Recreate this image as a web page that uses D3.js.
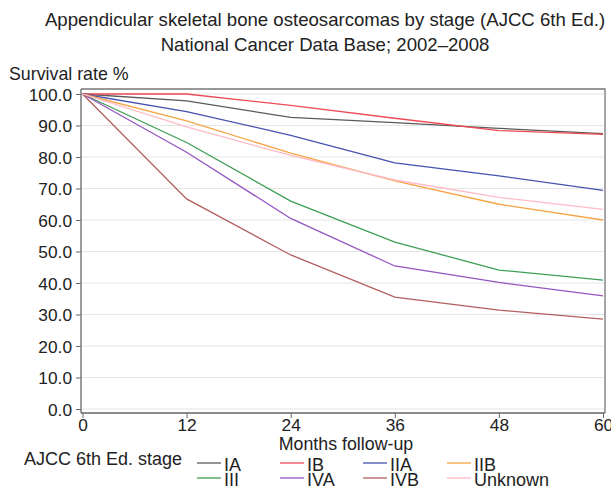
<!DOCTYPE html>
<html>
<head>
<meta charset="utf-8">
<script src="https://cdn.jsdelivr.net/npm/d3@7"></script>
<style>
  html, body { margin: 0; padding: 0; background: #fff; }
  svg { display: block; font-family: "Liberation Sans", Arial, sans-serif; }
</style>
</head>
<body>
<svg id="chart" width="611" height="490"></svg>
<script>
// ---- data ----
const months = [0, 12, 24, 36, 48, 60];
const stages = ["IA", "IB", "IIA", "IIB", "III", "IVA", "IVB", "Unknown"];
const valsIA      = [100, 97.8, 92.6, 90.9, 89.1, 87.4];
const valsIB      = [100, 100, 96.4, 92.3, 88.4, 87.2];
const valsIIA     = [100, 94.4, 86.9, 78.1, 74.0, 69.4];
const valsIIB     = [100, 91.5, 81.2, 72.4, 65.0, 60.0];
const valsIII     = [100, 84.6, 66.0, 53.0, 44.1, 40.9];
const valsIVA     = [100, 81.5, 60.5, 45.4, 40.2, 35.9];
const valsIVB     = [100, 66.7, 48.9, 35.5, 31.4, 28.5];
const valsUnknown = [100, 89.6, 80.5, 72.7, 67.2, 63.4];
const yTicks = [0, 10, 20, 30, 40, 50, 60, 70, 80, 90, 100];
const colors = ["#5a5a5a", "#ee4a55", "#4452b0", "#f5a545", "#3e9e55", "#9555c0", "#b35e5e", "#ffbac6"];

const seriesVals = [valsIA, valsIB, valsIIA, valsIIB, valsIII, valsIVA, valsIVB, valsUnknown];
const series = stages.map((s, i) => ({ name: s, color: colors[i], values: months.map((m, j) => ({ m, v: seriesVals[i][j] })) }));

// ---- layout ----
const svg = d3.select("#chart");
const plotL = 81, plotR = 605, plotT = 89, plotB = 413;
const x = d3.scaleLinear().domain([0, 60]).range([82.5, 603]);
const y = d3.scaleLinear().domain([0, 100]).range([409, 94]);
const FS = 17.8;

// titles
svg.append("text").attr("x", 325).attr("y", 26).attr("text-anchor", "middle")
  .attr("font-size", 18.6).attr("fill", "#222").text("Appendicular skeletal bone osteosarcomas by stage (AJCC 6th Ed.)");
svg.append("text").attr("x", 325).attr("y", 51).attr("text-anchor", "middle")
  .attr("font-size", 18.6).attr("fill", "#222").text("National Cancer Data Base; 2002\u20132008");
svg.append("text").attr("x", 9).attr("y", 80)
  .attr("font-size", FS).attr("fill", "#222").text("Survival rate %");

// gridlines
svg.append("g").selectAll("line").data(yTicks).join("line")
  .attr("x1", plotL + 1).attr("x2", plotR - 1)
  .attr("y1", d => y(d)).attr("y2", d => y(d))
  .attr("stroke", "#e6e6e6").attr("stroke-width", 1.2);

// frame (top & right)
svg.append("path")
  .attr("d", `M${plotL},${plotT}H${plotR}V${plotB}`)
  .attr("fill", "none").attr("stroke", "#777").attr("stroke-width", 1.3);

// y axis
const yAxis = svg.append("g").attr("transform", `translate(${plotL},0)`)
  .call(d3.axisLeft(y).tickValues(yTicks).tickFormat(d3.format(".1f")).tickSize(5).tickSizeOuter(0));
yAxis.select(".domain").remove();
yAxis.append("line").attr("x1", 0).attr("x2", 0).attr("y1", plotT).attr("y2", plotB).attr("stroke", "#666").attr("stroke-width", 1.3);
yAxis.selectAll(".tick line").attr("stroke", "#666");
yAxis.selectAll(".tick text").attr("font-size", 17.3).attr("fill", "#222").attr("font-family", "Liberation Sans, Arial, sans-serif").attr("x", -9).attr("dy", "0.35em");

// x axis
const xAxis = svg.append("g").attr("transform", `translate(0,${plotB})`)
  .call(d3.axisBottom(x).tickValues(months).tickSize(5).tickSizeOuter(0));
xAxis.select(".domain").remove();
xAxis.append("line").attr("x1", plotL).attr("x2", plotR).attr("y1", 0).attr("y2", 0).attr("stroke", "#666").attr("stroke-width", 1.3);
xAxis.selectAll(".tick line").attr("stroke", "#666");
xAxis.selectAll(".tick text").attr("font-size", 17.3).attr("fill", "#222").attr("font-family", "Liberation Sans, Arial, sans-serif").attr("y", 6).attr("dy", "0.71em");

svg.append("text").attr("x", 346).attr("y", 450).attr("text-anchor", "middle")
  .attr("font-size", FS).attr("fill", "#222").text("Months follow-up");

// lines
const line = d3.line().x(d => x(d.m)).y(d => y(d.v));
svg.append("g").selectAll("path").data(series).join("path")
  .attr("d", d => line(d.values))
  .attr("fill", "none").attr("stroke", d => d.color).attr("stroke-width", 1.3);

// legend
svg.append("text").attr("x", 24).attr("y", 465)
  .attr("font-size", 18).attr("fill", "#222").text("AJCC 6th Ed. stage");
const colX = [197, 280, 363, 447];
const rowY = [463, 478];
const leg = svg.append("g").selectAll("g").data(series).join("g")
  .attr("transform", (d, i) => `translate(${colX[i % 4]},${rowY[Math.floor(i / 4)]})`);
leg.append("line").attr("x1", 0).attr("x2", 24).attr("y1", 0).attr("y2", 0)
  .attr("stroke", d => d.color).attr("stroke-width", 1.3);
leg.append("text").attr("x", 27).attr("y", 8)
  .attr("font-size", 18).attr("fill", "#222").text(d => d.name);
</script>
</body>
</html>
